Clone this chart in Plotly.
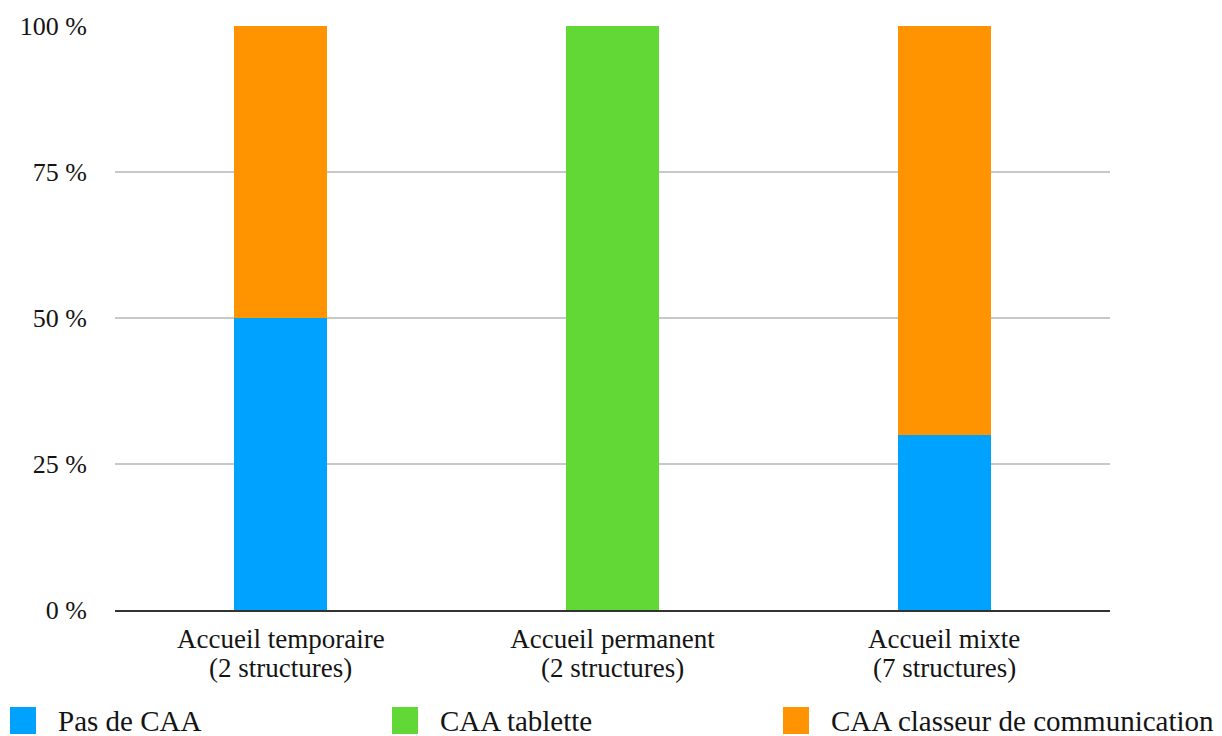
import plotly.graph_objects as go

categories = ["Accueil temporaire", "Accueil permanent", "Accueil mixte"]
structures = [2, 2, 7]
pas_de_caa = [50, 0, 30]
caa_tablette = [0, 100, 0]
caa_classeur = [50, 0, 70]
tick_vals = [0, 25, 50, 75, 100]
tick_text = ["0 %", "25 %", "50 %", "75 %", "100 %"]

FONT = "Liberation Serif"
TEXT = "#141414"

W, H = 1222, 736
ML, MR, MT, MB = 115, 112, 26, 126
PW, PH = W - ML - MR, H - MT - MB


def px_x(x):
    """Pixel column -> paper x."""
    return (x - ML) / PW


def px_y(y):
    """Pixel row (from top) -> paper y."""
    return (H - MB - y) / PH


series = [
    ("Pas de CAA", pas_de_caa, "#00A2FF", 10),
    ("CAA tablette", caa_tablette, "#61D836", 392),
    ("CAA classeur de communication", caa_classeur, "#FF9300", 783),
]

fig = go.Figure()
for name, vals, color, _ in series:
    fig.add_trace(go.Bar(x=categories, y=vals, name=name, marker_color=color,
                         marker_line_width=0, showlegend=False))

# Legend row along the bottom: large square swatches with serif labels
shapes, annotations = [], []
for name, vals, color, left in series:
    shapes.append(dict(type="rect", xref="paper", yref="paper",
                       x0=px_x(left), x1=px_x(left + 26),
                       y0=px_y(734), y1=px_y(707),
                       fillcolor=color, line_width=0))
    annotations.append(dict(text=name, xref="paper", yref="paper",
                            x=px_x(left + 46), y=px_y(721),
                            xanchor="left", yanchor="middle", showarrow=False,
                            font=dict(family=FONT, size=29, color=TEXT)))

# Second line of each category label: number of structures
for cat, n in zip(categories, structures):
    annotations.append(dict(text=f"({n} structures)", xref="x", yref="paper",
                            x=cat, y=px_y(668), xanchor="center",
                            yanchor="middle", showarrow=False,
                            font=dict(family=FONT, size=27, color=TEXT)))

fig.update_layout(
    barmode="stack",
    bargap=0.72,
    width=W, height=H,
    margin=dict(l=ML, r=MR, t=MT, b=MB, autoexpand=False),
    paper_bgcolor="white", plot_bgcolor="white",
    font=dict(family=FONT, color=TEXT),
    shapes=shapes,
    annotations=annotations,
)
fig.update_yaxes(range=[0, 100], tickvals=tick_vals, ticktext=tick_text,
                 tickfont=dict(family=FONT, size=26, color=TEXT),
                 showgrid=True, gridcolor="#C8C8C8", gridwidth=1.5,
                 zeroline=False, ticks="", ticklabelstandoff=27)
fig.update_xaxes(tickfont=dict(family=FONT, size=27, color=TEXT),
                 showline=True, linecolor="#333", linewidth=2, ticks="",
                 ticklabelstandoff=4)

fig.write_html("out.html")
